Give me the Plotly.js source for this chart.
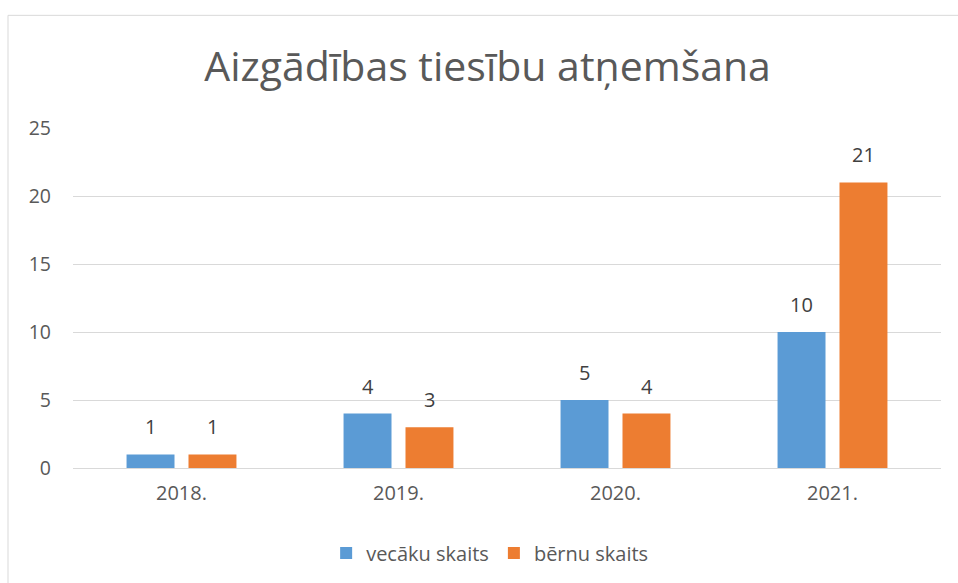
<!DOCTYPE html>
<html><head><meta charset="utf-8">
<script src="https://cdn.plot.ly/plotly-3.0.1.min.js"></script>
<style>html,body{margin:0;padding:0;background:#fff}#chart{width:958px;height:583px}</style>
</head><body><div id="chart"></div>
<script>
const categories = ['2018.', '2019.', '2020.', '2021.'];
const vecakuSkaits = [1, 4, 5, 10];
const bernuSkaits = [1, 3, 4, 21];
const seriesNames = ['vecāku skaits', 'bērnu skaits'];
const yTicks = [0, 5, 10, 15, 20, 25];

const FONT = '"Open Sans", sans-serif';
const blue = '#5B9BD5', orange = '#ED7D31';

const traces = [
  {type: 'bar', name: seriesNames[0], x: categories, y: vecakuSkaits, marker: {color: blue}, hoverinfo: 'none'},
  {type: 'bar', name: seriesNames[1], x: categories, y: bernuSkaits, marker: {color: orange}, hoverinfo: 'none'}
];

const annotations = [];
[vecakuSkaits, bernuSkaits].forEach((vals, s) => {
  vals.forEach((v, i) => {
    annotations.push({x: i, y: v, xref: 'x', yref: 'y', text: String(v), showarrow: false,
      xshift: s === 0 ? -31 : 31, yshift: 12, yanchor: 'bottom',
      font: {family: FONT, size: 20, color: '#404040'}});
  });
});

const layout = {
  width: 958, height: 583,
  margin: {l: 73, r: 17, t: 128, b: 114},
  paper_bgcolor: '#fff', plot_bgcolor: '#fff',
  font: {family: FONT, color: '#595959'},
  title: {text: 'Aizgādības tiesību atņemšana', x: 0.509, xref: 'container', y: 0.885, yref: 'container', yanchor: 'middle', xanchor: 'center',
    font: {family: FONT, size: 41, color: '#595959'}},
  barmode: 'group', bargap: 0.429, bargroupgap: 0.226,
  xaxis: {type: 'category', range: [-0.5, 3.5], showgrid: false, zeroline: false, showline: false, ticks: '',
    tickfont: {family: FONT, size: 20, color: '#595959'}, ticklabelstandoff: 11, fixedrange: true},
  yaxis: {range: [0, 25], tickvals: yTicks, ticktext: yTicks.map(String), showgrid: true, gridcolor: '#D9D9D9', gridwidth: 1,
    zeroline: true, zerolinecolor: '#D9D9D9', zerolinewidth: 1, showline: false, ticks: '',
    tickfont: {family: FONT, size: 19.5, color: '#595959'}, ticklabelstandoff: 21, fixedrange: true},
  showlegend: true,
  legend: {orientation: 'h', x: 0.48, xanchor: 'center', y: -0.246, yanchor: 'middle',
    font: {family: FONT, size: 20, color: '#595959'}, itemwidth: 30, traceorder: 'normal'},
  annotations: annotations,
  shapes: [{type: 'rect', xref: 'paper', yref: 'paper', x0: (8 - 73) / 868, x1: 1.1, y0: -0.5, y1: (469 - 15) / 341,
    line: {color: '#D9D9D9', width: 1}, fillcolor: 'rgba(0,0,0,0)', layer: 'below'}]
};

Plotly.newPlot('chart', traces, layout, {displayModeBar: false, staticPlot: true});
</script>
</body></html>
